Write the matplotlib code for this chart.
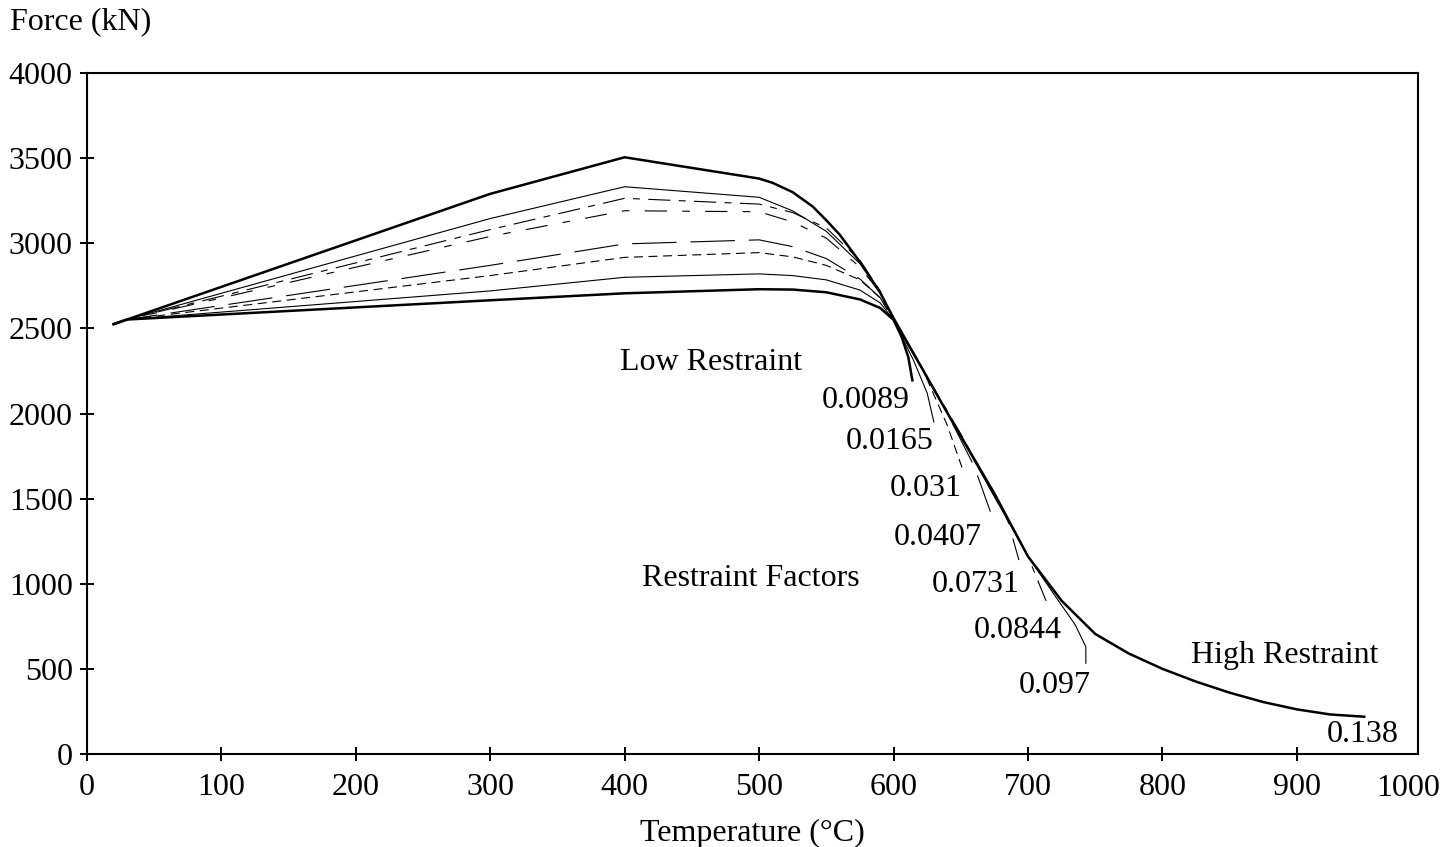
import matplotlib
matplotlib.use("Agg")
import matplotlib.pyplot as plt

plt.rcParams['font.family'] = ['Liberation Serif', 'DejaVu Serif']
plt.rcParams['lines.scale_dashes'] = False

# restraint factor curves: temperature (C) and force (kN)
t_0089 = [20, 30, 300, 400, 450, 500, 525, 550, 575, 590, 600, 606, 611, 614]
f_0089 = [2525, 2552, 2665, 2706, 2718, 2730, 2728, 2712, 2670, 2620, 2550, 2450, 2330, 2195]

t_0165 = [20, 30, 300, 400, 500, 525, 550, 575, 590, 600, 615, 625, 630]
f_0165 = [2525, 2552, 2720, 2800, 2820, 2810, 2785, 2725, 2650, 2550, 2310, 2120, 1950]

t_031 = [20, 30, 300, 400, 500, 525, 550, 575, 590, 600, 620, 640, 652]
f_031 = [2525, 2552, 2810, 2917, 2945, 2920, 2870, 2785, 2680, 2550, 2290, 1930, 1658]

t_0407 = [20, 30, 300, 400, 500, 525, 550, 575, 590, 600, 640, 660, 672]
f_0407 = [2525, 2552, 2870, 2996, 3020, 2980, 2910, 2790, 2680, 2550, 2000, 1690, 1423]

t_0731 = [20, 30, 300, 400, 500, 525, 550, 575, 590, 600, 650, 685, 696]
f_0731 = [2525, 2552, 3040, 3191, 3185, 3125, 3030, 2860, 2710, 2550, 1870, 1370, 1061]

t_0844 = [20, 30, 300, 400, 500, 525, 550, 575, 590, 600, 650, 700, 715]
f_0844 = [2525, 2552, 3080, 3264, 3230, 3180, 3090, 2900, 2720, 2550, 1880, 1160, 869]

t_097 = [20, 30, 300, 400, 500, 525, 550, 575, 590, 600, 643, 700, 720, 735, 743, 743]
f_097 = [2525, 2552, 3145, 3332, 3270, 3190, 3070, 2880, 2720, 2552, 1962, 1160, 930, 760, 630, 533]

t_138 = [20, 30, 300, 400, 500, 510, 525, 540, 550, 560, 575, 590, 600, 643, 675, 700,
         725, 750, 775, 800, 825, 850, 875, 900, 925, 950]
f_138 = [2525, 2552, 3290, 3505, 3380, 3355, 3300, 3215, 3135, 3050, 2890, 2710, 2560, 1962, 1530, 1160,
         900, 705, 590, 500, 425, 360, 305, 262, 232, 219]

factor_labels = ['0.0089', '0.0165', '0.031', '0.0407', '0.0731', '0.0844', '0.097', '0.138']
label_x = [579, 597, 624, 633, 661, 692, 720, 949]
label_y = [2079, 1838, 1562, 1269, 993, 728, 405, 112]

fig = plt.figure(figsize=(14.54, 8.47), dpi=100)
ax = fig.add_axes([86.7 / 1454, 1 - 754 / 847, (1418 - 86.7) / 1454, (754 - 73) / 847])

thick = 1.8
thin = 0.8
ax.plot(t_0089, f_0089, color='black', lw=thick)
ax.plot(t_0165, f_0165, color='black', lw=thin)
ax.plot(t_031, f_031, color='black', lw=thin, dashes=(6.5, 4))
ax.plot(t_0407, f_0407, color='black', lw=thin, dashes=(32, 10))
ax.plot(t_0731, f_0731, color='black', lw=thin, dashes=(16, 11, 5.5, 11))
ax.plot(t_0844, f_0844, color='black', lw=thin, dashes=(16, 6, 5, 6))
ax.plot(t_097, f_097, color='black', lw=thin)
ax.plot(t_138, f_138, color='black', lw=thick)

fs = 23
for lab, x, y in zip(factor_labels, label_x, label_y):
    ax.text(x, y, lab, fontsize=fs, ha='center', va='center')

ax.text(464, 2302, 'Low Restraint', fontsize=fs, ha='center', va='center')
ax.text(494, 1028, 'Restraint Factors', fontsize=fs, ha='center', va='center')
ax.text(891, 581, 'High Restraint', fontsize=fs, ha='center', va='center')

ax.set_xlim(0, 990)
ax.set_ylim(0, 4000)
ax.set_xticks(range(0, 1000, 100))
ax.set_yticks(range(0, 4001, 500))
ax.tick_params(direction='inout', length=10, width=1.4, labelsize=fs, pad=5)
ax.tick_params(axis='x', pad=9)
ax.text(983, -0.03, '1000', fontsize=fs, ha='center', va='top',
        transform=ax.get_xaxis_transform())
for s in ax.spines.values():
    s.set_linewidth(1.5)

ax.set_xlabel('Temperature (°C)', fontsize=fs, labelpad=12)
fig.text(10 / 1454, 1 - 22 / 847, 'Force (kN)', fontsize=fs, ha='left', va='center')

fig.savefig('out.png', dpi=100)
